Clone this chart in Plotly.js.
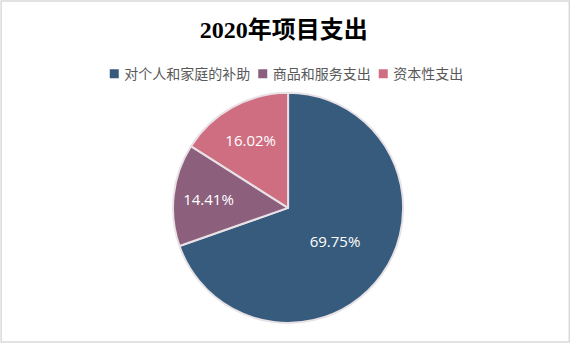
<!DOCTYPE html>
<html>
<head>
<meta charset="utf-8">
<script src="https://cdn.plot.ly/plotly-3.0.1.min.js"></script>
<style>html,body{margin:0;padding:0;background:#fff;}#chart{width:571px;height:353px;}</style>
</head>
<body>
<div id="chart"></div>
<script>
const categories = ['对个人和家庭的补助', '商品和服务支出', '资本性支出'];
const values = [69.75, 14.41, 16.02];
const colors = ['#365B7C', '#8C5F7D', '#D06E81'];

const trace = {
  type: 'pie',
  labels: categories,
  values: values,
  sort: false,
  direction: 'clockwise',
  rotation: 0,
  marker: {colors: colors, line: {color: '#E8E2E6', width: 2}},
  texttemplate: '%{value:.2f}%',
  textposition: 'inside',
  insidetextorientation: 'horizontal',
  textfont: {color: '#ffffff', size: 15, family: 'Open Sans, Noto Sans, sans-serif'},
  hoverinfo: 'label+value',
  domain: {x: [0.303, 0.706], y: [0.085, 0.737]}
};

const layout = {
  width: 571, height: 353,
  margin: {l: 0, r: 0, t: 0, b: 0},
  paper_bgcolor: '#ffffff',
  title: {
    text: '<b>2020年项目支出</b>',
    x: 0.497, xanchor: 'center',
    y: 0.915, yanchor: 'middle',
    font: {family: 'Liberation Serif, Noto Sans CJK SC, serif', size: 24, color: '#000000'}
  },
  showlegend: true,
  legend: {
    orientation: 'h',
    x: 0.5, xanchor: 'center',
    y: 0.79, yanchor: 'middle',
    font: {family: 'Noto Sans CJK SC, sans-serif', size: 14, color: '#595959'},
    itemwidth: 30,
    traceorder: 'normal'
  },
  shapes: [{
    type: 'rect', xref: 'paper', yref: 'paper',
    x0: 0.002, x1: 0.997, y0: 1 - 342/353, y1: 0.997,
    line: {color: '#D9D9D9', width: 1.5}
  }]
};

const gd = document.getElementById('chart');
Plotly.newPlot(gd, [trace], layout, {displayModeBar: false, staticPlot: true}).then(function () {
  // Tighten legend spacing (compact square markers close to the text)
  try {
    const items = Array.from(gd.querySelectorAll('.legend .traces'));
    if (!items.length) return;
    let x = 0;
    const firstT = items[0].getAttribute('transform') || '';
    const m0 = /translate\(\s*([-\d.]+)[ ,]+([-\d.]+)/.exec(firstT);
    const y0 = m0 ? parseFloat(m0[2]) : 0;
    items.forEach(function (g) {
      const txt = g.querySelector('.legendtext');
      const sym = g.querySelector('.legendpie, .legendpoints path');
      if (sym) {
        sym.setAttribute('d', 'M4.5,4.5H-4.5V-4.5H4.5Z');
        sym.style.strokeWidth = '0';
      }
      let w = 0;
      if (txt) {
        txt.setAttribute('x', '30');
        w = txt.getComputedTextLength();
      }
      g.setAttribute('transform', 'translate(' + x + ',' + y0 + ')');
      x += w + 22.5;
    });
    // re-center content horizontally on the page centre
    const root = gd.getBoundingClientRect();
    let minX = Infinity, maxX = -Infinity;
    items.forEach(function (g) {
      const r = g.getBoundingClientRect();
      minX = Math.min(minX, r.left - root.left);
      maxX = Math.max(maxX, r.right - root.left);
    });
    const bg = gd.querySelectorAll('.legend .traces .legendtoggle');
    const dx = 285 - (minX + maxX) / 2;
    items.forEach(function (g) {
      const m = /translate\(\s*([-\d.]+)[ ,]+([-\d.]+)/.exec(g.getAttribute('transform'));
      g.setAttribute('transform', 'translate(' + (parseFloat(m[1]) + dx) + ',' + m[2] + ')');
    });
  } catch (e) {}
});
</script>
</body>
</html>
